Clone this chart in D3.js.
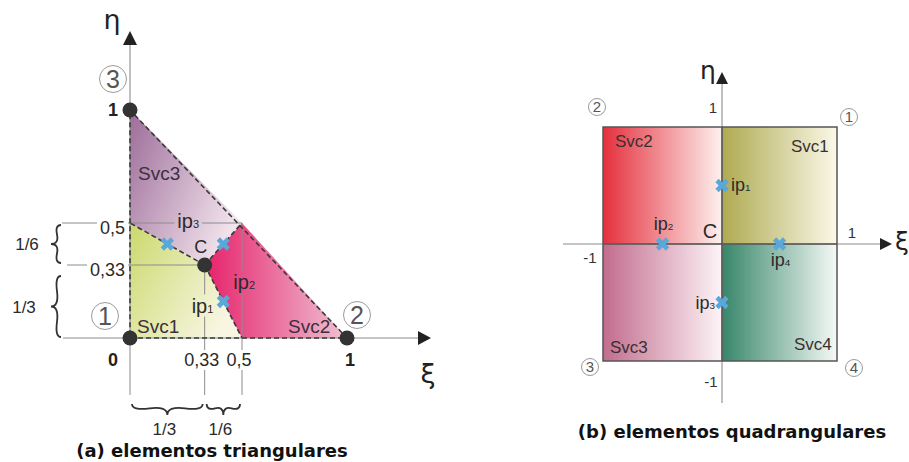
<!DOCTYPE html>
<html lang="pt">

<head>
  <meta charset="UTF-8">
  <title>Subvolumes de controle</title>
  <style>
    html,
    body {
      margin: 0;
      padding: 0;
      background: #fff;
    }

    svg {
      display: block;
      font-family: "Liberation Sans", Arial, sans-serif;
    }
  </style>
</head>

<body>
  <div id="main"></div>
  <script src="https://d3js.org/d3.v7.min.js"></script>
  <script>
    // 1. dados
    // elemento triangular (coordenadas xi, eta)
    const triNodes = [[0, 0], [1, 0], [0, 1]]
    const triNodeIds = ['1', '2', '3']
    const triCentroid = [1 / 3, 1 / 3]
    const triSvcNames = ['Svc1', 'Svc2', 'Svc3']
    const triSvcPolys = [
      [[0, 0], [0.5, 0], [1 / 3, 1 / 3], [0, 0.5]],
      [[0.5, 0], [1, 0], [0.5, 0.5], [1 / 3, 1 / 3]],
      [[0, 0.5], [1 / 3, 1 / 3], [0.5, 0.5], [0, 1]]
    ]
    const triMidpoints = [[0.5, 0], [0.5, 0.5], [0, 0.5]]
    const triIps = [[5 / 12, 1 / 6], [5 / 12, 5 / 12], [1 / 6, 5 / 12]]
    const triTicks = [1 / 3, 0.5]
    const triTickLabels = ['0,33', '0,5']
    const triSpanFrom = [0, 1 / 3]
    const triSpanTo = [1 / 3, 0.5]
    const triSpanLabels = ['1/3', '1/6']

    // elemento quadrangular
    const quadNodes = [[1, 1], [-1, 1], [-1, -1], [1, -1]]
    const quadNodeIds = ['1', '2', '3', '4']
    const quadSvcNames = ['Svc1', 'Svc2', 'Svc3', 'Svc4']
    const quadSvcPolys = [
      [[0, 0], [1, 0], [1, 1], [0, 1]],
      [[-1, 0], [0, 0], [0, 1], [-1, 1]],
      [[-1, -1], [0, -1], [0, 0], [-1, 0]],
      [[0, -1], [1, -1], [1, 0], [0, 0]]
    ]
    const quadIps = [[0, 0.5], [-0.5, 0], [0, -0.5], [0.5, 0]]

    // cores dos subvolumes (inicio, fim do degrade)
    const triColors = [['#cbd96c', '#f8f6e2'], ['#e6226a', '#efc2d4'], ['#9d6c99', '#f1e3ec']]
    const quadColors = [['#aeaa52', '#fbf8e8'], ['#e5303d', '#fdf1ef'], ['#c26c8d', '#fdf4f7'], ['#37866a', '#f5f9f6']]

    // 2. container
    const [width, height] = [909, 462]
    const svg = d3.select('#main').append('svg')
      .attr('width', width)
      .attr('height', height)
      .attr('viewBox', `0 0 ${width} ${height}`)
    const defs = svg.append('defs')
    const mask = defs.append('mask').attr('id', 'gap')
      .attr('maskUnits', 'userSpaceOnUse')
      .attr('x', 0).attr('y', 0).attr('width', width).attr('height', height)
    mask.append('rect').attr('width', width).attr('height', height).attr('fill', '#fff')

    function gradient(id, c, x2, y2) {
      const g = defs.append('linearGradient').attr('id', id)
        .attr('x1', 0).attr('y1', 0).attr('x2', x2).attr('y2', y2)
      g.append('stop').attr('offset', '0%').attr('stop-color', c[0])
      g.append('stop').attr('offset', '100%').attr('stop-color', c[1])
    }

    function ipLabel(g, x, y, n, size, anchor) {
      const t = g.append('text').attr('x', x).attr('y', y)
        .attr('font-size', size).attr('fill', '#2a2a2a')
        .attr('text-anchor', anchor || 'start')
      t.append('tspan').text('ip')
      t.append('tspan').attr('font-size', size * 0.55).text(n)
      return t
    }

    function circled(g, x, y, r, n, size) {
      g.append('circle').attr('cx', x).attr('cy', y).attr('r', r)
        .attr('fill', '#fff').attr('stroke', '#9a9a9a').attr('stroke-width', 1)
      g.append('text').attr('x', x).attr('y', y + size * 0.36)
        .attr('text-anchor', 'middle').attr('font-size', size)
        .attr('fill', '#555').text(n)
    }

    // chave { entre dois pontos
    function brace(x1, y1, x2, y2, w, q) {
      let dx = x1 - x2, dy = y1 - y2
      const len = Math.sqrt(dx * dx + dy * dy)
      dx /= len; dy /= len
      const qx1 = x1 + q * w * dy, qy1 = y1 - q * w * dx
      const qx2 = (x1 - .25 * len * dx) + (1 - q) * w * dy
      const qy2 = (y1 - .25 * len * dy) - (1 - q) * w * dx
      const tx1 = (x1 - .5 * len * dx) + w * dy
      const ty1 = (y1 - .5 * len * dy) - w * dx
      const qx3 = x2 + q * w * dy, qy3 = y2 - q * w * dx
      const qx4 = (x1 - .75 * len * dx) + (1 - q) * w * dy
      const qy4 = (y1 - .75 * len * dy) - (1 - q) * w * dx
      return `M${x1},${y1}Q${qx1},${qy1} ${qx2},${qy2}T${tx1},${ty1}` +
        `M${x2},${y2}Q${qx3},${qy3} ${qx4},${qy4}T${tx1},${ty1}`
    }

    const cutLabels = []

    // 3. elemento triangular
    const tx = d3.scaleLinear().domain([0, 0.5, 1]).range([130, 242, 347])
    const ty = d3.scaleLinear().domain([0, 1 / 3, 0.5, 1]).range([338, 265, 223, 110])
    const triLine = d3.line().x(d => tx(d[0])).y(d => ty(d[1]))
    const gA = svg.append('g')

    triColors.forEach((c, i) => gradient('tri' + i, c, 1, i === 1 ? 0 : 0.6))
    gA.selectAll('path.svc').data(triSvcPolys).join('path')
      .attr('class', 'svc')
      .attr('d', d => triLine(d) + 'Z')
      .attr('fill', (d, i) => `url(#tri${i})`)

    // linhas guia (cinza)
    const guides = gA.append('g').attr('mask', 'url(#gap)')
      .attr('stroke', '#8c8c8c').attr('stroke-width', 1)
    triTicks.forEach(t => {
      guides.append('line').attr('x1', tx(0) - (t === 0.5 ? 68 : 63)).attr('x2', tx(t))
        .attr('y1', ty(t)).attr('y2', ty(t))
      guides.append('line').attr('x1', tx(t)).attr('x2', tx(t))
        .attr('y1', ty(t)).attr('y2', ty(0) + 57)
    })
    guides.append('line').attr('x1', tx(0)).attr('x2', tx(0))
      .attr('y1', ty(0)).attr('y2', ty(0) + 57)

    // eixos
    const axA = gA.append('g').attr('stroke', '#8c8c8c').attr('stroke-width', 1.1)
    axA.append('line').attr('x1', tx(0)).attr('x2', tx(0)).attr('y1', ty(0)).attr('y2', 40)
    axA.append('line').attr('x1', tx(0) - 67).attr('x2', 422).attr('y1', ty(0)).attr('y2', ty(0))
    gA.append('path').attr('d', `M${tx(0)},31L${tx(0) - 7},45L${tx(0) + 7},45Z`).attr('fill', '#222')
    gA.append('path').attr('d', `M431,${ty(0)}L418,${ty(0) - 7}L418,${ty(0) + 7}Z`).attr('fill', '#222')
    gA.append('text').attr('x', 112).attr('y', 29).attr('text-anchor', 'middle')
      .attr('font-size', 27).attr('font-family', 'DejaVu Sans').attr('fill', '#222').text('η')
    gA.append('text').attr('x', 428).attr('y', 383).attr('text-anchor', 'middle')
      .attr('font-size', 27).attr('font-family', 'DejaVu Sans').attr('fill', '#222').text('ξ')

    // contornos tracejados
    const dash = gA.append('g').attr('fill', 'none').attr('stroke', '#3a3a3a')
      .attr('stroke-width', 1.6).attr('stroke-dasharray', '5,3')
    dash.append('path').attr('d', triLine(triNodes) + 'Z')
    dash.selectAll('path.mid').data(triMidpoints).join('path').attr('class', 'mid')
      .attr('d', d => triLine([triCentroid, d]))

    // rotulos
    const lab = gA.append('g')
    const triSvcPos = [[7, -5], [-59, -5], [8, 70]]
    lab.selectAll('text.svc').data(triSvcNames).join('text').attr('class', 'svc')
      .attr('x', (d, i) => tx(triNodes[i][0]) + triSvcPos[i][0])
      .attr('y', (d, i) => ty(triNodes[i][1]) + triSvcPos[i][1])
      .attr('font-size', 19).attr('fill', '#3d2f3d').text(d => d)

    triTicks.forEach((t, i) => {
      cutLabels.push(lab.append('text').attr('x', tx(0) - 5).attr('y', ty(t) + 11)
        .attr('text-anchor', 'end').attr('font-size', 18).attr('fill', '#2a2a2a').text(triTickLabels[i]))
      cutLabels.push(lab.append('text').attr('x', tx(t) - 3).attr('y', ty(0) + 28)
        .attr('text-anchor', 'middle').attr('font-size', 18).attr('fill', '#2a2a2a').text(triTickLabels[i]))
    })
    lab.append('text').attr('x', 113).attr('y', ty(0) + 28).attr('text-anchor', 'middle')
      .attr('font-size', 18).attr('font-weight', 'bold').attr('fill', '#222').text('0')
    lab.append('text').attr('x', tx(1) + 3).attr('y', ty(0) + 28).attr('text-anchor', 'middle')
      .attr('font-size', 18).attr('font-weight', 'bold').attr('fill', '#222').text('1')
    lab.append('text').attr('x', 113).attr('y', ty(1) + 6).attr('text-anchor', 'middle')
      .attr('font-size', 18).attr('font-weight', 'bold').attr('fill', '#222').text('1')

    // chaves
    const br = gA.append('g').attr('fill', 'none').attr('stroke', '#333').attr('stroke-width', 1.8)
    br.append('path').attr('d', brace(61, ty(0.5) + 2, 61, ty(1 / 3) - 2, 10, 0.6))
    br.append('path').attr('d', brace(61, ty(1 / 3) + 11, 61, ty(0) - 1, 10, 0.6))
    lab.append('text').attr('x', 27).attr('y', 250).attr('text-anchor', 'middle')
      .attr('font-size', 17).attr('fill', '#2a2a2a').text(triSpanLabels[1])
    lab.append('text').attr('x', 24).attr('y', 313).attr('text-anchor', 'middle')
      .attr('font-size', 17).attr('fill', '#2a2a2a').text(triSpanLabels[0])
    triSpanFrom.forEach((s, i) => {
      br.append('path').attr('d', brace(tx(s) + 2, 404, tx(triSpanTo[i]) - 2, 404, 11, 0.6))
      lab.append('text').attr('x', (tx(s) + tx(triSpanTo[i])) / 2 - 3).attr('y', 435)
        .attr('text-anchor', 'middle').attr('font-size', 17).attr('fill', '#2a2a2a').text(triSpanLabels[i])
    })

    // pontos de integracao
    const cross = d3.symbol(d3.symbolCross, 110)
    gA.selectAll('path.ip').data(triIps).join('path').attr('class', 'ip')
      .attr('d', cross).attr('fill', '#5aa7da')
      .attr('transform', d => `translate(${tx(d[0])},${ty(d[1])}) rotate(45)`)
    const triIpPos = [[-10, 11, 'end'], [10, 45, 'start'], [10, -16, 'start']]
    triIps.forEach((d, i) => {
      cutLabels.push(ipLabel(lab, tx(d[0]) + triIpPos[i][0], ty(d[1]) + triIpPos[i][1], i + 1, 20, triIpPos[i][2]))
    })

    // nos e centroide
    gA.selectAll('circle.node').data(triNodes.concat([triCentroid])).join('circle').attr('class', 'node')
      .attr('cx', d => tx(d[0])).attr('cy', d => ty(d[1])).attr('r', 7.5).attr('fill', '#333')
    lab.append('text').attr('x', tx(1 / 3) - 4).attr('y', ty(1 / 3) - 12).attr('text-anchor', 'middle')
      .attr('font-size', 18).attr('fill', '#2a2a2a').text('C')
    const triIdPos = [[-25, -22], [10, -23], [-17, -31]]
    triNodes.forEach((d, i) => circled(gA, tx(d[0]) + triIdPos[i][0], ty(d[1]) + triIdPos[i][1], 13.5, triNodeIds[i], 25))

    gA.append('text').attr('x', 212).attr('y', 457).attr('text-anchor', 'middle')
      .attr('font-family', 'DejaVu Sans').attr('font-weight', 'bold').attr('font-size', 18)
      .attr('fill', '#111').text('(a) elementos triangulares')

    // 4. elemento quadrangular
    const qx = d3.scaleLinear().domain([-1, 0, 1]).range([603, 722, 837])
    const qy = d3.scaleLinear().domain([-1, 0, 1]).range([361, 244, 127])
    const quadLine = d3.line().x(d => qx(d[0])).y(d => qy(d[1]))
    const gB = svg.append('g')

    quadColors.forEach((c, i) => gradient('quad' + i, c, 1, 0))
    gB.selectAll('path.svc').data(quadSvcPolys).join('path').attr('class', 'svc')
      .attr('d', d => quadLine(d) + 'Z')
      .attr('fill', (d, i) => `url(#quad${i})`)

    const axB = gB.append('g').attr('stroke', '#8c8c8c').attr('stroke-width', 1.1)
    axB.append('line').attr('x1', qx(0)).attr('x2', qx(0)).attr('y1', 403).attr('y2', 80)
    axB.append('line').attr('x1', 563).attr('x2', 882).attr('y1', qy(0)).attr('y2', qy(0))
    gB.append('path').attr('d', `M${qx(0)},72L${qx(0) - 6},84L${qx(0) + 6},84Z`).attr('fill', '#222')
    gB.append('path').attr('d', `M892,${qy(0)}L880,${qy(0) - 6}L880,${qy(0) + 6}Z`).attr('fill', '#222')
    gB.append('text').attr('x', 708).attr('y', 79).attr('text-anchor', 'middle')
      .attr('font-size', 25).attr('font-family', 'DejaVu Sans').attr('fill', '#222').text('η')
    gB.append('text').attr('x', 902).attr('y', 250).attr('text-anchor', 'middle')
      .attr('font-size', 25).attr('font-family', 'DejaVu Sans').attr('fill', '#222').text('ξ')

    const edges = gB.append('g').attr('fill', 'none').attr('stroke', '#555').attr('stroke-width', 1.5)
    edges.append('path').attr('d', quadLine(quadNodes) + 'Z')
    edges.append('line').attr('x1', qx(-1)).attr('x2', qx(1)).attr('y1', qy(0)).attr('y2', qy(0))
    edges.append('line').attr('x1', qx(0)).attr('x2', qx(0)).attr('y1', qy(-1)).attr('y2', qy(1))

    const labB = gB.append('g')
    const quadTicks = [[qx(0) - 9, qy(1) - 14, '1'], [qx(1) + 15, qy(0) - 6, '1'],
    [qx(-1) - 13, qy(0) + 19, '-1'], [qx(0) - 11, qy(-1) + 26, '-1']]
    labB.selectAll('text.tick').data(quadTicks).join('text').attr('class', 'tick')
      .attr('x', d => d[0]).attr('y', d => d[1]).attr('text-anchor', 'middle')
      .attr('font-size', 15).attr('fill', '#333').text(d => d[2])

    const quadSvcPos = [[-46, 25, 'start'], [12, 20, 'start'], [7, -8, 'start'], [-43, -11, 'start']]
    labB.selectAll('text.svc').data(quadSvcNames).join('text').attr('class', 'svc')
      .attr('x', (d, i) => qx(quadNodes[i][0]) + quadSvcPos[i][0])
      .attr('y', (d, i) => qy(quadNodes[i][1]) + quadSvcPos[i][1])
      .attr('font-size', 17).attr('fill', '#3a3030').text(d => d)

    gB.selectAll('path.ip').data(quadIps).join('path').attr('class', 'ip')
      .attr('d', cross).attr('fill', '#5aa7da')
      .attr('transform', d => `translate(${qx(d[0])},${qy(d[1])}) rotate(45)`)
    const quadIpPos = [[9, 5, 'start'], [1, -14, 'middle'], [-7, 6, 'end'], [1, 22, 'middle']]
    quadIps.forEach((d, i) => ipLabel(labB, qx(d[0]) + quadIpPos[i][0], qy(d[1]) + quadIpPos[i][1], i + 1, 18, quadIpPos[i][2]))
    labB.append('text').attr('x', qx(0) - 12).attr('y', qy(0) - 6).attr('text-anchor', 'middle')
      .attr('font-size', 20).attr('fill', '#2a2a2a').text('C')

    const quadIdPos = [[12, -10], [-6, -20], [-13, 6], [17, 7]]
    quadNodes.forEach((d, i) => circled(gB, qx(d[0]) + quadIdPos[i][0], qy(d[1]) + quadIdPos[i][1], 8.5, quadNodeIds[i], 15))

    gB.append('text').attr('x', 732).attr('y', 438).attr('text-anchor', 'middle')
      .attr('font-family', 'DejaVu Sans').attr('font-weight', 'bold').attr('font-size', 18)
      .attr('fill', '#111').text('(b) elementos quadrangulares')

    // 5. recortes nas linhas guia atras dos rotulos
    cutLabels.forEach(t => {
      const b = t.node().getBBox()
      mask.append('rect').attr('x', b.x - 3).attr('y', b.y).attr('width', b.width + 6)
        .attr('height', b.height).attr('fill', '#000')
    })
  </script>
</body>

</html>
